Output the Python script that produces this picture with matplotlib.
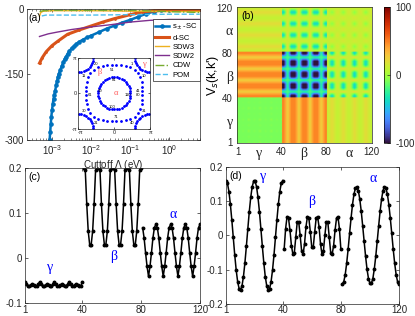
import numpy as np
import matplotlib.pyplot as plt
from matplotlib.ticker import FuncFormatter

plt.rcParams['font.family'] = ['Liberation Sans', 'DejaVu Sans']
plt.rcParams['axes.unicode_minus'] = False
plt.rcParams['font.size'] = 7

# ---------------- panel (a): flow of couplings vs cutoff ----------------
lam_s = [8.7e-4, 9.0e-4, 9.3e-4, 9.6e-4, 1.0e-3, 1.05e-3, 1.1e-3, 1.15e-3, 1.2e-3,
         1.28e-3, 1.35e-3, 1.42e-3, 1.5e-3, 1.65e-3, 1.8e-3, 1.95e-3, 2.1e-3, 2.3e-3,
         2.5e-3, 2.8e-3, 3.2e-3, 3.7e-3, 4.2e-3, 5.0e-3, 6.3e-3, 8.0e-3, 1.0e-2, 1.6e-2,
         2.5e-2, 4.0e-2, 6.3e-2, 0.1, 0.16, 0.25, 0.4, 0.63, 1.0, 2.0, 4.0, 6.0]
v_s = [-300, -282, -264, -248, -232, -217, -205, -196, -188, -175, -165, -156, -148,
       -139, -130, -122, -115, -109, -103, -96, -90, -85, -80, -75, -70, -65, -61, -53,
       -45, -38, -31, -25, -18, -11, -6, -3, -1.5, -0.5, 0, 0]
lam_d = [4.8e-4, 5.6e-4, 7.1e-4, 1.0e-3, 1.4e-3, 2.5e-3, 5.0e-3, 1.0e-2, 2.0e-2,
         4.0e-2, 0.1, 0.2, 0.4, 1.0, 2.5, 6.0]
v_d = [-124, -112, -98, -84, -74, -58, -48, -39, -30, -22, -13, -7, -4, -3, -3, -3]
lam_sdw2 = [4.8e-4, 8e-4, 1.35e-3, 3.2e-3, 1e-2, 3.2e-2, 0.1, 0.32, 1.0, 6.0]
v_sdw2 = [-63, -57, -53, -47, -41, -36, -30, -26, -24, -24]
lam_sdw3 = [4.8e-4, 5.2e-4, 6e-4, 1e-3, 1e-2, 0.1, 1.0, 6.0]
v_sdw3 = [-16, -8, -5, -4, -4, -5, -6, -6]
lam_cdw = [4.8e-4, 6e-4, 1e-3, 1e-2, 0.1, 1.0, 6.0]
v_cdw = [-6, -4, -3, -3, -3, -6, -8]
lam_pom = [5.5e-4, 7e-4, 1e-3, 1e-2, 0.1, 1.0, 6.0]
v_pom = [-16, -14, -14, -14, -13, -12, -12]

# ---------------- panels (c), (d): gap functions on the 120 patches ----------------
c_gamma = [-0.052, -0.058, -0.061, -0.062, -0.060, -0.058, -0.060, -0.062, -0.061, -0.058,
           -0.052, -0.058, -0.061, -0.062, -0.060, -0.058, -0.060, -0.062, -0.061, -0.058,
           -0.052, -0.058, -0.061, -0.062, -0.060, -0.058, -0.060, -0.062, -0.061, -0.058,
           -0.052, -0.058, -0.061, -0.062, -0.060, -0.058, -0.060, -0.062, -0.061, -0.052]
c_beta = [0.200, 0.195, 0.120, 0.060, 0.030, 0.030, 0.060, 0.120, 0.195, 0.200,
          0.200, 0.195, 0.120, 0.060, 0.030, 0.030, 0.060, 0.120, 0.195, 0.200,
          0.200, 0.195, 0.120, 0.060, 0.030, 0.030, 0.060, 0.120, 0.195, 0.200,
          0.200, 0.195, 0.120, 0.060, 0.030, 0.030, 0.060, 0.120, 0.195, 0.200]
c_alpha = [0.068, 0.045, 0.012, -0.018, -0.040, -0.018, 0.012, 0.045, 0.068, 0.075,
           0.068, 0.045, 0.012, -0.018, -0.040, -0.018, 0.012, 0.045, 0.068, 0.075,
           0.068, 0.045, 0.012, -0.018, -0.040, -0.018, 0.012, 0.045, 0.068, 0.075,
           0.068, 0.045, 0.012, -0.018, -0.040, -0.018, 0.012, 0.045, 0.068, 0.075]
d_gamma = [0.160, 0.152, 0.128, 0.091, 0.045, -0.006, -0.057, -0.101, -0.135, -0.155,
           -0.160, -0.147, -0.120, -0.080, -0.032, 0.019, 0.069, 0.111, 0.142, 0.158,
           0.158, 0.142, 0.111, 0.069, 0.019, -0.032, -0.080, -0.120, -0.147, -0.160,
           -0.155, -0.135, -0.101, -0.057, -0.006, 0.045, 0.091, 0.128, 0.152, 0.160]
d_beta = [-0.040, 0.020, 0.055, 0.050, 0.015, -0.030, -0.055, -0.050, -0.005, 0.040,
          0.040, 0.000, -0.045, -0.055, -0.025, 0.025, 0.055, 0.050, 0.010, -0.035,
          -0.035, 0.010, 0.050, 0.055, 0.025, -0.025, -0.055, -0.045, 0.000, 0.040,
          0.040, -0.005, -0.050, -0.055, -0.030, 0.015, 0.050, 0.055, 0.020, -0.040]
d_alpha = [-0.142, -0.135, -0.114, -0.081, -0.040, 0.006, 0.050, 0.090, 0.120, 0.138,
           0.142, 0.131, 0.106, 0.071, 0.028, -0.017, -0.061, -0.099, -0.126, -0.140,
           -0.140, -0.126, -0.098, -0.061, -0.017, 0.028, 0.071, 0.106, 0.131, 0.142,
           0.138, 0.120, 0.090, 0.050, 0.006, -0.040, -0.081, -0.114, -0.135, -0.142]

# ---------------- panel (b): block structure of V_s(k,k') ----------------
# bands in order gamma, beta, alpha ; [row band][column band]
v_base = [[-10, 28, 10], [28, -20, 12], [10, 12, 10]]
v_row = [[0, 0, 0], [20, -10, 0], [10, 5, 5]]
v_prod = [[4, 0, 0], [0, -70, -55], [0, -55, -25]]

# Fermi surface inset: pocket sizes (units of pi)
r_alpha, r_beta, r_gamma = 0.45, 0.78, 0.42

blue_c = (0.0, 0.447, 0.741)
orange_c = (0.85, 0.325, 0.098)
yellow_c = (0.929, 0.694, 0.125)
purple_c = (0.494, 0.184, 0.556)
green_c = (0.466, 0.674, 0.188)
cyan_c = (0.301, 0.745, 0.933)
axcol = (0.15, 0.15, 0.15)
serif = ['Liberation Serif', 'DejaVu Serif']

fig = plt.figure(figsize=(4.15, 3.16), dpi=100)


def style(ax):
    for s in ax.spines.values():
        s.set_linewidth(0.5)
        s.set_color(axcol)
    ax.tick_params(direction='in', top=True, right=True, length=2.5, width=0.5,
                   colors=axcol, labelsize=7, pad=2)
    ax.tick_params(which='minor', direction='in', top=True, right=True,
                   length=1.5, width=0.4, colors=axcol)


# (a)
axa = fig.add_axes([0.0651, 0.557, 0.4169, 0.4146])
axa.plot(lam_s, v_s, '-o', color=blue_c, lw=1.8, ms=2.3, label=r's$_\pm$-SC')
axa.plot(lam_d, v_d, '-', marker='.', color=orange_c, lw=2.2, ms=2, label='d-SC')
axa.plot(lam_sdw3, v_sdw3, '-', color=yellow_c, lw=1, label='SDW3')
axa.plot(lam_sdw2, v_sdw2, '-', color=purple_c, lw=1, label='SDW2')
axa.plot(lam_cdw, v_cdw, '-.', color=green_c, lw=1, label='CDW')
axa.plot(lam_pom, v_pom, '--', color=cyan_c, lw=1, label='POM')
axa.set_xscale('log')
axa.set_xlim(2.3e-4, 6.1)
axa.set_ylim(-300, 0)
axa.set_yticks([-300, -150, 0])
axa.set_xticks([1e-3, 1e-2, 1e-1, 1e0])
style(axa)
axa.set_xlabel(r'Cuttoff $\Lambda$ (eV)', fontsize=7, labelpad=1, color=axcol)
axa.text(0.01, 0.97, '(a)', transform=axa.transAxes, ha='left', va='top', fontsize=7.5)
leg = axa.legend(loc='upper right', bbox_to_anchor=(1.0, 0.92), fontsize=5.5,
                 frameon=True, fancybox=False, edgecolor=axcol, framealpha=1,
                 handlelength=1.8, labelspacing=0.25, borderpad=0.3, handletextpad=0.4,
                 borderaxespad=0.0)
leg.get_frame().set_linewidth(0.5)

# inset Fermi surface
axi = fig.add_axes([0.188, 0.592, 0.174, 0.226])
pi = np.pi
ta = np.linspace(0, 2 * pi, 40, endpoint=False) + pi / 2
ax_pts = r_alpha * pi * np.cos(ta)
ay_pts = r_alpha * pi * np.sin(ta)
tb = np.linspace(0, 2 * pi, 40, endpoint=False) + pi / 40
rb = r_beta * pi / (np.abs(np.cos(tb)) ** 3 + np.abs(np.sin(tb)) ** 3) ** (1 / 3)
bx_pts = rb * np.cos(tb)
by_pts = rb * np.sin(tb)
gx, gy = [], []
for cx, cy, t0 in [(pi, pi, pi), (-pi, pi, 1.5 * pi), (-pi, -pi, 0), (pi, -pi, 0.5 * pi)]:
    tg = t0 + np.linspace(0.02, 0.48, 10) * pi
    gx += list(cx + r_gamma * pi * np.cos(tg))
    gy += list(cy + r_gamma * pi * np.sin(tg))
axi.plot(gx, gy, '.', color='b', ms=2)
axi.plot(bx_pts, by_pts, '.', color='b', ms=2)
axi.plot(ax_pts, ay_pts, '.', color='b', ms=2)
axi.set_xlim(-pi, pi)
axi.set_ylim(-pi, pi)
axi.set_xticks([-pi, 0, pi])
axi.set_yticks([-pi, 0, pi])
axi.set_xticklabels(['-π', '0', 'π'])
axi.set_yticklabels(['-π', '0', 'π'])
style(axi)
axi.tick_params(labelsize=4, length=1.5, pad=0.8)
axi.get_xticklabels()[0].set_horizontalalignment('left')
red_lab = (1, 0.35, 0.35)
axi.text(0.05 * pi, 0, 'α', color=red_lab, fontsize=6, ha='center', va='center', family=serif)
axi.text(-0.4 * pi, 0.6 * pi, 'β', color=red_lab, fontsize=6, ha='center', va='center', family=serif)
axi.text(0.85 * pi, 0.82 * pi, 'γ', color=red_lab, fontsize=6, ha='center', va='center', family=serif)
allx = np.concatenate([gx, bx_pts, ax_pts])
ally = np.concatenate([gy, by_pts, ay_pts])
for idx in [1, 10, 11, 20, 21, 30, 31, 40, 41, 51, 61, 71, 80, 81, 90, 100, 110]:
    xx, yy = allx[idx - 1], ally[idx - 1]
    axi.text(xx * 0.85, yy * 0.85, str(idx), fontsize=3, ha='center', va='center', color='k')

# (b)
axb = fig.add_axes([0.5711, 0.5475, 0.3253, 0.4304])
cg = np.array(c_gamma); cb = np.array(c_beta); ca = np.array(c_alpha)
prof = np.concatenate([(cg - cg.min()) / np.ptp(cg),
                       np.sqrt((cb - cb.min()) / np.ptp(cb)),
                       (ca.max() - ca) / np.ptp(ca)])
band = np.repeat([0, 1, 2], 40)
B = np.array(v_base, float)[band][:, band]
R = np.array(v_row, float)[band][:, band]
C = np.array(v_row, float).T[band][:, band]
P = np.array(v_prod, float)[band][:, band]
V = B + R * prof[:, None] + C * prof[None, :] + P * np.outer(prof, prof)
im = axb.imshow(V, origin='lower', extent=(0.5, 120.5, 0.5, 120.5), cmap='turbo',
                vmin=-100, vmax=100, aspect='auto', interpolation='bilinear')
tk = [1, 20, 40, 60, 80, 100, 120]
tl = ['1', 'γ', '40', 'β', '80', 'α', '120']
axb.set_xticks(tk)
axb.set_xticklabels(tl)
axb.set_yticks(tk)
axb.set_yticklabels(tl)
style(axb)
axb.tick_params(length=0, pad=3)
for lab in axb.get_xticklabels() + axb.get_yticklabels():
    if lab.get_text() in ('α', 'β', 'γ'):
        lab.set_fontsize(10)
        lab.set_fontfamily(serif)
axb.set_ylabel(r"V$_s$(k,k')", fontsize=9, labelpad=-3)
axb.text(0.03, 0.97, '(b)', transform=axb.transAxes, ha='left', va='top', fontsize=7.5)
cax = fig.add_axes([0.926, 0.5475, 0.0145, 0.4304])
cbar = fig.colorbar(im, cax=cax, ticks=[-100, 0, 100])
cbar.outline.set_linewidth(0.5)
cax.tick_params(labelsize=7, length=2, width=0.5, direction='in', colors=axcol)

# (c) and (d)
kg = np.arange(1, 41)
kb = np.arange(41, 81)
kal = np.arange(81, 121)
fmt = FuncFormatter(lambda v, p: f'{v:g}')
blue_txt = (0, 0, 1)


def gap_panel(rect, g, b, a, ylim, yt, lab, txt):
    ax = fig.add_axes(rect)
    for kk, vv in [(kg, g), (kb, b), (kal, a)]:
        ax.plot(kk, vv, '-o', color='k', lw=1.1, ms=1.8)
    ax.set_xlim(1, 120)
    ax.set_ylim(*ylim)
    ax.set_xticks([1, 40, 80, 120])
    ax.set_yticks(yt)
    ax.yaxis.set_major_formatter(fmt)
    style(ax)
    ax.tick_params(axis='x', pad=1)
    ax.text(0.02, 0.97, lab, transform=ax.transAxes, ha='left', va='top', fontsize=7.5)
    for s, x, y in txt:
        ax.text(x, y, s, color=blue_txt, fontsize=10, ha='center', va='center', family=serif)
    return ax


gap_panel([0.0602, 0.04, 0.4217, 0.428], c_gamma, c_beta, c_alpha, (-0.1, 0.2),
          [-0.1, 0, 0.1, 0.2], '(c)',
          [('γ', 18, -0.021), ('β', 61, 0.005), ('α', 102, 0.097)])
gap_panel([0.5446, 0.038, 0.4169, 0.434], d_gamma, d_beta, d_alpha, (-0.2, 0.2),
          [-0.2, -0.1, 0, 0.1, 0.2], '(d)',
          [('γ', 26.6, 0.172), ('β', 60, 0.1), ('α', 102.3, 0.167)])

fig.savefig('out.png', dpi=100)
